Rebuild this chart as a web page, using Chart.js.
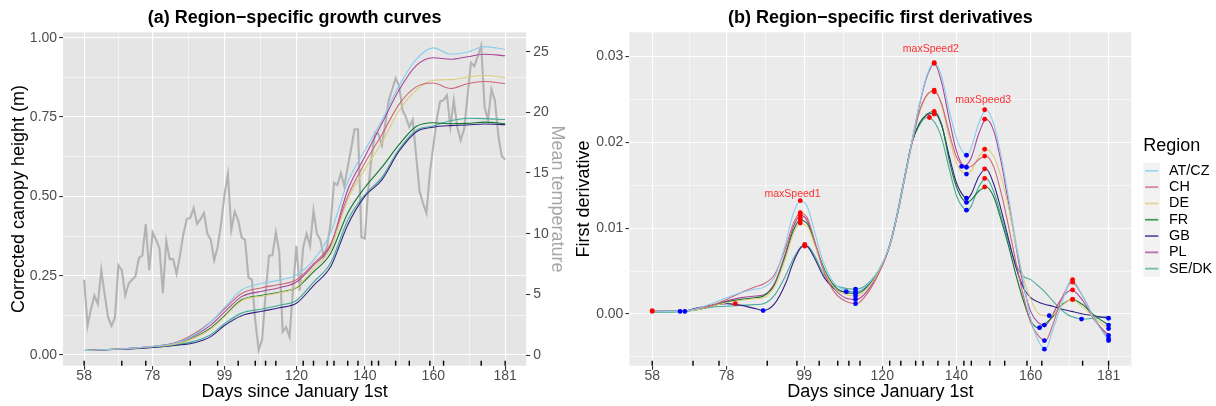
<!DOCTYPE html>
<html>
<head>
<meta charset="utf-8">
<script src="https://cdn.jsdelivr.net/npm/chart.js@4.4.1/dist/chart.umd.min.js"></script>
<style>
  html, body { margin: 0; padding: 0; background: #ffffff; }
  #wrap { position: relative; width: 1216px; height: 406px; }
  canvas { position: absolute; top: 0; }
  #growthChart { left: 0; }
  #derivChart { left: 573px; }
</style>
</head>
<body>
<div id="wrap">
  <canvas id="growthChart" width="573" height="406"></canvas>
  <canvas id="derivChart" width="643" height="406"></canvas>
</div>
<script>
const regions = ['AT/CZ', 'CH', 'DE', 'FR', 'GB', 'PL', 'SE/DK'];
const regionColors = ['#88CCEE', '#CC6677', '#DDCC77', '#117733', '#332288', '#AA4499', '#44AA99'];

const xTickLabels = [58, 78, 99, 120, 140, 160, 181];
const heightTicks = [0, 0.25, 0.5, 0.75, 1.0];
const tempTicks = [0, 5, 10, 15, 20, 25];
const derivTicks = [0, 0.01, 0.02, 0.03];

// observation dates (rug)
const rugDays = [58, 69, 76, 89, 97, 103, 108, 111, 114, 122, 125, 129, 131, 135, 138, 142, 144, 149, 153, 159, 163, 174, 181];

// (a) growth curves
const growthDays = [58, 68, 78, 85, 90, 95, 99, 104, 110, 115, 120, 125, 130, 135, 140, 145, 150, 155, 160, 165, 170, 175, 181];
const growthATCZ = [0.014, 0.019, 0.027, 0.038, 0.062, 0.104, 0.150, 0.205, 0.226, 0.236, 0.252, 0.299, 0.385, 0.545, 0.645, 0.740, 0.849, 0.932, 0.968, 0.948, 0.955, 0.972, 0.963];
const growthCH   = [0.014, 0.019, 0.027, 0.040, 0.066, 0.104, 0.145, 0.194, 0.212, 0.222, 0.237, 0.288, 0.350, 0.500, 0.605, 0.695, 0.790, 0.845, 0.857, 0.840, 0.855, 0.862, 0.855];
const growthDE   = [0.014, 0.019, 0.026, 0.035, 0.053, 0.082, 0.120, 0.171, 0.186, 0.196, 0.213, 0.272, 0.335, 0.490, 0.585, 0.670, 0.770, 0.835, 0.866, 0.868, 0.876, 0.881, 0.874];
const growthFR   = [0.014, 0.019, 0.026, 0.035, 0.054, 0.085, 0.124, 0.174, 0.188, 0.198, 0.212, 0.262, 0.320, 0.447, 0.528, 0.592, 0.663, 0.720, 0.732, 0.729, 0.730, 0.734, 0.729];
const growthGB   = [0.014, 0.018, 0.024, 0.031, 0.038, 0.058, 0.093, 0.124, 0.138, 0.149, 0.163, 0.219, 0.278, 0.410, 0.500, 0.552, 0.642, 0.703, 0.718, 0.723, 0.725, 0.728, 0.726];
const growthPL   = [0.014, 0.019, 0.027, 0.038, 0.060, 0.094, 0.135, 0.184, 0.201, 0.212, 0.230, 0.283, 0.345, 0.520, 0.625, 0.730, 0.835, 0.912, 0.937, 0.932, 0.940, 0.948, 0.943];
const growthSEDK = [0.014, 0.018, 0.024, 0.032, 0.043, 0.064, 0.099, 0.132, 0.145, 0.157, 0.172, 0.230, 0.290, 0.425, 0.505, 0.560, 0.648, 0.708, 0.722, 0.738, 0.746, 0.745, 0.742];

// daily mean temperature, day 58 .. 181
const tempStartDay = 58;
const meanTemp = [6.2, 2.4, 3.8, 4.9, 4.2, 7.0, 5.0, 3.1, 2.4, 3.1, 7.4, 7.0, 4.9, 5.9, 6.2, 6.5, 8.0, 8.2, 10.8, 7.0,
  10.1, 9.5, 8.8, 5.1, 9.4, 7.9, 7.9, 6.7, 8.2, 10.0, 11.2, 11.3, 12.1, 10.8, 11.2, 11.7, 10.0, 9.5, 7.8, 8.9,
  10.8, 13.2, 14.9, 10.3, 11.8, 11.1, 9.7, 9.5, 6.4, 6.2, 2.8, 0.4, 1.3, 5.0, 8.2, 8.2, 10.1, 8.5, 1.9, 2.3,
  1.5, 5.3, 9.0, 5.3, 8.9, 10.0, 9.0, 11.9, 10.0, 9.5, 8.1, 9.0, 10.8, 14.2, 14.0, 15.0, 13.9, 15.5, 17.0, 18.6,
  18.6, 9.7, 9.6, 13.6, 16.4, 18.3, 18.2, 17.3, 19.1, 21.0, 21.9, 22.8, 22.2, 20.2, 19.6, 18.8, 19.4, 16.4, 13.5, 12.5,
  11.7, 15.0, 17.2, 19.4, 20.9, 21.0, 21.4, 18.8, 21.0, 18.8, 17.7, 18.6, 21.3, 24.1, 23.8, 24.6, 25.5, 20.4, 19.4, 21.9,
  21.0, 18.1, 16.4, 16.1];

// (b) first derivatives
const derivDays = [58, 62, 66, 70, 74, 78, 82, 86, 88, 91, 94, 96, 98, 99, 100, 102, 104, 107, 110, 113, 116, 120, 122, 124, 126, 128,
  130, 132, 134, 136, 138, 140, 142, 143, 144, 146, 148, 150, 152, 154, 156, 158, 160, 162, 164, 166, 168, 170, 171, 174, 177, 181];
const derivATCZ = [0.0004, 0.0003, 0.0003, 0.0006, 0.0012, 0.0019, 0.0025, 0.0029, 0.0031, 0.0043, 0.0083, 0.0117, 0.0132, 0.0130, 0.0123, 0.0092, 0.0062, 0.0036, 0.0028, 0.0026, 0.0034, 0.0059, 0.0080, 0.0115, 0.0158, 0.0201,
  0.0244, 0.0278, 0.0293, 0.0277, 0.0238, 0.0205, 0.0187, 0.0185, 0.0194, 0.0222, 0.0238, 0.0222, 0.0185, 0.0137, 0.0085, 0.0038, -0.0005, -0.0031, -0.0041, -0.0018, 0.0007, 0.0033, 0.0040, 0.0021, -0.0005, -0.0031];
const derivCH = [0.0004, 0.0003, 0.0003, 0.0006, 0.0010, 0.0017, 0.0025, 0.0032, 0.0035, 0.0046, 0.0078, 0.0105, 0.0118, 0.0116, 0.0110, 0.0082, 0.0053, 0.0026, 0.0015, 0.0012, 0.0024, 0.0056, 0.0079, 0.0114, 0.0157, 0.0199,
  0.0236, 0.0255, 0.0260, 0.0245, 0.0212, 0.0183, 0.0172, 0.0171, 0.0172, 0.0180, 0.0184, 0.0172, 0.0142, 0.0103, 0.0061, 0.0022, -0.0010, -0.0025, -0.0031, -0.0012, 0.0014, 0.0032, 0.0037, 0.0021, -0.0004, -0.0029];
const derivDE = [0.0003, 0.0003, 0.0003, 0.0005, 0.0009, 0.0013, 0.0016, 0.0018, 0.0019, 0.0032, 0.0066, 0.0093, 0.0106, 0.0104, 0.0101, 0.0078, 0.0054, 0.0031, 0.0023, 0.0021, 0.0030, 0.0057, 0.0079, 0.0114, 0.0157, 0.0199,
  0.0234, 0.0254, 0.0261, 0.0243, 0.0207, 0.0176, 0.0164, 0.0163, 0.0167, 0.0183, 0.0192, 0.0184, 0.0160, 0.0125, 0.0081, 0.0043, 0.0017, 0.0001, -0.0002, -0.0001, 0.0008, 0.0015, 0.0017, 0.0008, -0.0004, -0.0017];
const derivFR = [0.0003, 0.0003, 0.0003, 0.0005, 0.0009, 0.0014, 0.0017, 0.0019, 0.0021, 0.0034, 0.0069, 0.0097, 0.0110, 0.0108, 0.0104, 0.0080, 0.0056, 0.0033, 0.0025, 0.0024, 0.0032, 0.0058, 0.0080, 0.0115, 0.0158, 0.0200,
  0.0222, 0.0233, 0.0236, 0.0221, 0.0180, 0.0148, 0.0132, 0.0130, 0.0133, 0.0143, 0.0148, 0.0137, 0.0110, 0.0080, 0.0046, 0.0016, -0.0008, -0.0016, -0.0011, -0.0003, 0.0009, 0.0015, 0.0017, 0.0011, -0.0001, -0.0013];
const derivGB = [0.0003, 0.0003, 0.0003, 0.0007, 0.0010, 0.0012, 0.0010, 0.0006, 0.0004, 0.0012, 0.0036, 0.0060, 0.0077, 0.0080, 0.0078, 0.0063, 0.0045, 0.0030, 0.0026, 0.0026, 0.0033, 0.0057, 0.0079, 0.0114, 0.0157, 0.0199,
  0.0222, 0.0232, 0.0234, 0.0220, 0.0185, 0.0153, 0.0137, 0.0135, 0.0140, 0.0160, 0.0169, 0.0152, 0.0122, 0.0088, 0.0055, 0.0031, 0.0019, 0.0014, 0.0011, 0.0009, 0.0006, 0.0004, 0.0003, 0.0000, -0.0002, -0.0005];
const derivPL = [0.0004, 0.0003, 0.0003, 0.0006, 0.0010, 0.0015, 0.0019, 0.0021, 0.0022, 0.0036, 0.0072, 0.0101, 0.0115, 0.0113, 0.0107, 0.0081, 0.0055, 0.0030, 0.0019, 0.0017, 0.0027, 0.0057, 0.0080, 0.0115, 0.0158, 0.0201,
  0.0243, 0.0276, 0.0292, 0.0270, 0.0228, 0.0190, 0.0173, 0.0175, 0.0182, 0.0210, 0.0227, 0.0214, 0.0178, 0.0130, 0.0080, 0.0034, 0.0003, -0.0010, -0.0013, 0.0000, 0.0016, 0.0026, 0.0028, 0.0016, -0.0006, -0.0025];
const derivSEDK = [0.0002, 0.0002, 0.0003, 0.0005, 0.0008, 0.0009, 0.0010, 0.0011, 0.0012, 0.0022, 0.0045, 0.0064, 0.0078, 0.0080, 0.0079, 0.0066, 0.0048, 0.0034, 0.0030, 0.0029, 0.0035, 0.0058, 0.0081, 0.0117, 0.0160, 0.0200,
  0.0220, 0.0229, 0.0224, 0.0205, 0.0170, 0.0138, 0.0123, 0.0121, 0.0126, 0.0148, 0.0158, 0.0143, 0.0115, 0.0085, 0.0058, 0.0044, 0.0040, 0.0033, 0.0025, 0.0015, 0.0006, -0.0001, -0.0003, -0.0006, -0.0005, -0.0003];

// local maxima (red) and minima (blue)
const maxDotDays = [58, 58, 80.4, 97.9, 97.9, 97.9, 97.9, 97.9, 97.9, 99.1, 99.1, 132.7, 134, 134, 134, 134, 134, 134,
  147.6, 147.6, 147.6, 147.6, 147.6, 147.6, 147.6, 171.3, 171.3, 171.3, 171.3, 171.3];
const maxDotValues = [0.0004, 0.0003, 0.0012, 0.0132, 0.0118, 0.0115, 0.0112, 0.0110, 0.0106, 0.0081, 0.0079, 0.0229, 0.0293, 0.0292, 0.0261, 0.0259, 0.0236, 0.0233,
  0.0238, 0.0227, 0.0192, 0.0184, 0.0169, 0.0158, 0.0148, 0.0040, 0.0037, 0.0028, 0.0017, 0.0017];
const minDotDays = [65.5, 66.8, 87.9, 110.3, 112.8, 112.8, 112.8, 112.8, 112.8, 112.8, 141.4, 142.7, 142.7, 142.7, 142.7, 142.7, 142.7,
  162.4, 163.7, 163.7, 163.7, 165, 173.7, 181, 181, 181, 181, 181, 181];
const minDotValues = [0.0003, 0.0003, 0.0004, 0.0026, 0.0029, 0.0026, 0.0024, 0.0021, 0.0017, 0.0012, 0.0172, 0.0185, 0.0171, 0.0163, 0.0135, 0.0130, 0.0121,
  -0.0016, -0.0013, -0.0031, -0.0041, -0.0002, -0.0006, -0.0005, -0.0013, -0.0017, -0.0025, -0.0029, -0.0031];

const speedLabels = ['maxSpeed1', 'maxSpeed2', 'maxSpeed3'];
const speedLabelDays = [95.8, 133.1, 147.2];
const speedLabelValues = [0.0140, 0.0309, 0.0249];

const growthSeries = [growthATCZ, growthCH, growthDE, growthFR, growthGB, growthPL, growthSEDK];
const derivSeries = [derivATCZ, derivCH, derivDE, derivFR, derivGB, derivPL, derivSEDK];

Chart.defaults.font.family = '"Liberation Sans", Arial, Helvetica, sans-serif';
Chart.defaults.animation = false;

function isIn(list, v) { return list.some(t => Math.abs(t - v) < 1e-9); }
function withMidpoints(list) {
  const mids = list.slice(1).map((v, i) => (v + list[i]) / 2);
  return list.concat(mids).sort((a, b) => a - b);
}
const xGrid = withMidpoints(xTickLabels);
const heightGrid = withMidpoints(heightTicks);
const derivGrid = withMidpoints([-0.01].concat(derivTicks)).filter(v => v > -0.007);

function gridOpts(majors) {
  return {
    color: '#FFFFFF',
    tickLength: 4,
    lineWidth: c => (c.tick && isIn(majors, c.tick.value)) ? 1.1 : 0.55,
    tickColor: c => (c.tick && isIn(majors, c.tick.value)) ? '#333333' : 'rgba(0,0,0,0)',
    tickWidth: 1.1
  };
}

function xAxis() {
  return {
    type: 'linear', min: 51.85, max: 187.15,
    afterBuildTicks: s => { s.ticks = xGrid.map(v => ({ value: v })); },
    afterFit: s => { s.height = 40.3; },
    ticks: { autoSkip: false, maxRotation: 0, padding: -1, color: '#4D4D4D', font: { size: 14, lineHeight: 1 },
      callback: v => isIn(xTickLabels, v) ? String(v) : '' },
    grid: gridOpts(xTickLabels),
    border: { display: false },
    title: { display: true, text: 'Days since January 1st', color: '#000000', font: { size: 18 }, padding: { top: 0, bottom: 3 } }
  };
}

const panelBg = {
  id: 'panelBg',
  beforeDraw(chart, args, opts) {
    const { ctx, chartArea: a } = chart;
    ctx.save();
    ctx.fillStyle = opts.color;
    ctx.fillRect(a.left, a.top, a.right - a.left, a.bottom - a.top);
    ctx.restore();
  }
};

const rug = {
  id: 'rug',
  afterDatasetsDraw(chart) {
    const { ctx, chartArea: a, scales: { x } } = chart;
    ctx.save();
    ctx.strokeStyle = '#000000';
    ctx.lineWidth = 1.4;
    rugDays.forEach(d => {
      const px = x.getPixelForValue(d);
      ctx.beginPath();
      ctx.moveTo(px, a.bottom);
      ctx.lineTo(px, a.bottom - 5);
      ctx.stroke();
    });
    ctx.restore();
  }
};

const panelTitle = {
  id: 'panelTitle',
  afterDraw(chart, args, opts) {
    const { ctx, chartArea: a } = chart;
    ctx.save();
    ctx.font = 'bold 18px "Liberation Sans", Arial, sans-serif';
    ctx.fillStyle = '#000000';
    ctx.textAlign = 'center';
    ctx.textBaseline = 'middle';
    ctx.fillText(opts.text, (a.left + a.right) / 2, 18.5);
    ctx.restore();
  }
};

const speedText = {
  id: 'speedText',
  afterDatasetsDraw(chart) {
    const { ctx, scales: { x, y } } = chart;
    ctx.save();
    ctx.font = '10.5px "Liberation Sans", Arial, sans-serif';
    ctx.fillStyle = 'rgba(255,0,0,0.8)';
    ctx.textAlign = 'center';
    ctx.textBaseline = 'middle';
    speedLabels.forEach((t, i) => ctx.fillText(t, x.getPixelForValue(speedLabelDays[i]), y.getPixelForValue(speedLabelValues[i])));
    ctx.restore();
  }
};

const regionLegend = {
  id: 'regionLegend',
  afterDraw(chart) {
    const { ctx, chartArea: a } = chart;
    const left = a.right + 11.9;
    const top = 162.7;
    const row = 16.3;
    ctx.save();
    ctx.font = '18px "Liberation Sans", Arial, sans-serif';
    ctx.fillStyle = '#000000';
    ctx.textAlign = 'left';
    ctx.textBaseline = 'middle';
    ctx.fillText('Region', left, 146);
    ctx.fillStyle = '#F2F2F2';
    ctx.fillRect(left, top, 16.7, row * regions.length);
    ctx.font = '14.4px "Liberation Sans", Arial, sans-serif';
    regions.forEach((r, i) => {
      const cy = top + row * i + row / 2;
      ctx.globalAlpha = 0.75;
      ctx.strokeStyle = regionColors[i];
      ctx.lineWidth = 1.8;
      ctx.beginPath();
      ctx.moveTo(left + 1.7, cy);
      ctx.lineTo(left + 15, cy);
      ctx.stroke();
      ctx.globalAlpha = 1;
      ctx.fillStyle = '#000000';
      ctx.fillText(r, left + 25.7, cy);
    });
    ctx.restore();
  }
};

// ---- (a) growth curves ----
const growthDatasets = regions.map((r, i) => ({
  label: r,
  data: growthDays.map((d, j) => ({ x: d, y: growthSeries[i][j] })),
  yAxisID: 'y',
  borderColor: regionColors[i],
  borderWidth: 1.1,
  pointRadius: 0,
  cubicInterpolationMode: 'monotone',
  order: 1
}));
growthDatasets.push({
  label: 'Mean temperature',
  data: meanTemp.map((t, j) => ({ x: tempStartDay + j, y: t })),
  yAxisID: 'y2',
  borderColor: '#B3B3B3',
  borderWidth: 2.1,
  pointRadius: 0,
  tension: 0,
  order: 10
});

new Chart(document.getElementById('growthChart'), {
  type: 'line',
  data: { datasets: growthDatasets },
  plugins: [panelBg, rug, panelTitle],
  options: {
    responsive: false,
    devicePixelRatio: 1,
    events: [],
    layout: { padding: { top: 32.3, left: 0, right: 0, bottom: 0 } },
    plugins: {
      legend: { display: false },
      tooltip: { enabled: false },
      panelBg: { color: '#E5E5E5' },
      panelTitle: { text: '(a) Region\u2212specific growth curves' }
    },
    scales: {
      x: xAxis(),
      y: {
        type: 'linear', position: 'left', min: -0.0337, max: 1.017,
        afterBuildTicks: s => { s.ticks = heightGrid.map(v => ({ value: v })); },
        afterFit: s => { s.width = 63.1; },
        ticks: { padding: 2, color: '#4D4D4D', font: { size: 14 }, callback: v => isIn(heightTicks, v) ? v.toFixed(2) : '' },
        grid: gridOpts(heightTicks),
        border: { display: false },
        title: { display: true, text: 'Corrected canopy height (m)', color: '#000000', font: { size: 18 }, padding: { top: 8, bottom: 0 } }
      },
      y2: {
        type: 'linear', position: 'right', min: -0.881, max: 26.595,
        afterBuildTicks: s => { s.ticks = tempTicks.map(v => ({ value: v })); },
        afterFit: s => { s.width = 46.8; },
        ticks: { padding: 3, color: '#4D4D4D', font: { size: 14 }, callback: v => String(v) },
        grid: { drawOnChartArea: false, tickLength: 4, tickColor: '#333333', tickWidth: 1.1 },
        border: { display: false },
        title: { display: true, text: 'Mean temperature', color: '#A6A6A6', font: { size: 18 }, padding: { top: 5, bottom: 0 } }
      }
    }
  }
});

// ---- (b) first derivatives ----
const derivDatasets = regions.map((r, i) => ({
  label: r,
  data: derivDays.map((d, j) => ({ x: d, y: derivSeries[i][j] })),
  borderColor: regionColors[i],
  borderWidth: 1.1,
  pointRadius: 0,
  cubicInterpolationMode: 'monotone',
  order: 5
}));
derivDatasets.push({
  label: 'maxima',
  data: maxDotDays.map((d, j) => ({ x: d, y: maxDotValues[j] })),
  showLine: false,
  pointRadius: 2.4,
  pointBorderWidth: 0,
  pointBackgroundColor: '#FF0000',
  order: 1
});
derivDatasets.push({
  label: 'minima',
  data: minDotDays.map((d, j) => ({ x: d, y: minDotValues[j] })),
  showLine: false,
  pointRadius: 2.4,
  pointBorderWidth: 0,
  pointBackgroundColor: '#0000FF',
  order: 2
});

new Chart(document.getElementById('derivChart'), {
  type: 'line',
  data: { datasets: derivDatasets },
  plugins: [panelBg, rug, panelTitle, speedText, regionLegend],
  options: {
    responsive: false,
    devicePixelRatio: 1,
    events: [],
    layout: { padding: { top: 32.3, left: 0, right: 84.6, bottom: 0 } },
    plugins: {
      legend: { display: false },
      tooltip: { enabled: false },
      panelBg: { color: '#EBEBEB' },
      panelTitle: { text: '(b) Region\u2212specific first derivatives' }
    },
    scales: {
      x: xAxis(),
      y: {
        type: 'linear', position: 'left', min: -0.00603, max: 0.03283,
        afterBuildTicks: s => { s.ticks = derivGrid.map(v => ({ value: v })); },
        afterFit: s => { s.width = 56.4; },
        ticks: { padding: 2, color: '#4D4D4D', font: { size: 14 }, callback: v => isIn(derivTicks, v) ? v.toFixed(2) : '' },
        grid: gridOpts(derivTicks),
        border: { display: false },
        title: { display: true, text: 'First derivative', color: '#000000', font: { size: 18 }, padding: { top: 0.7, bottom: 0 } }
      }
    }
  }
});
</script>
</body>
</html>
